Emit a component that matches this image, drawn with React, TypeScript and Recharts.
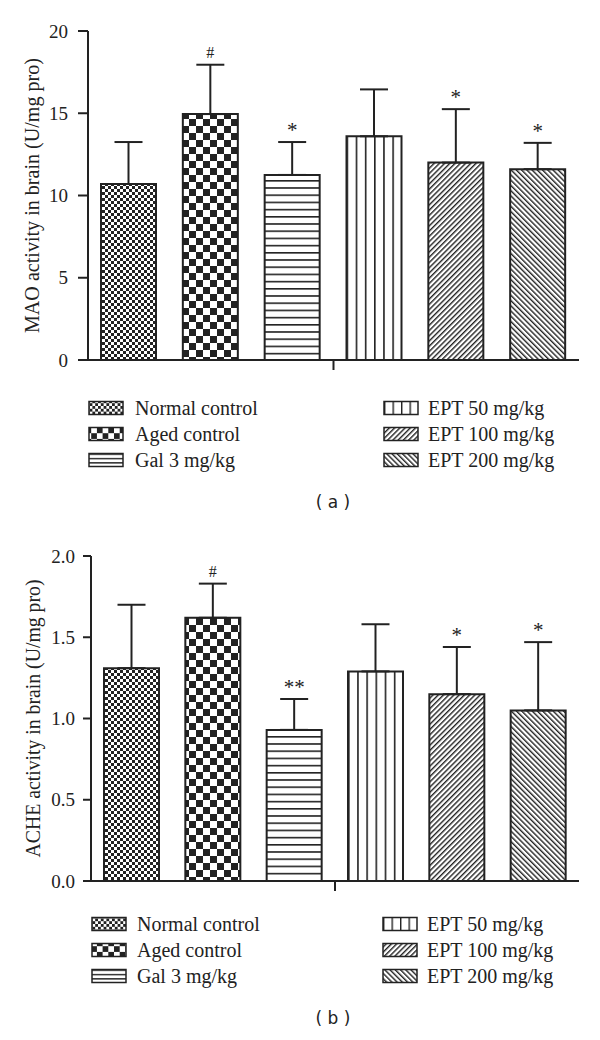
import React from 'react'
import { BarChart, Bar, XAxis, YAxis, ErrorBar, Cell, LabelList } from 'recharts'

const SERIF = '"Liberation Serif", "Times New Roman", serif'
const INK = '#222'

const groups = ['Normal control', 'Aged control', 'Gal 3 mg/kg', 'EPT 50 mg/kg', 'EPT 100 mg/kg', 'EPT 200 mg/kg']

// (a) MAO
const maoMean = [10.7, 14.95, 11.25, 13.6, 12.0, 11.6]
const maoSd = [2.55, 3.0, 2.0, 2.85, 3.25, 1.6]
const maoMarks = ['', '#', '*', '', '*', '*']
const maoTicks = [0, 5, 10, 15, 20]

// (b) ACHE
const acheMean = [1.31, 1.62, 0.93, 1.29, 1.15, 1.05]
const acheSd = [0.39, 0.21, 0.19, 0.29, 0.29, 0.42]
const acheMarks = ['', '#', '**', '', '*', '*']
const acheTicks = [0, 0.5, 1.0, 1.5, 2.0]

function Patterns() {
  const diag = (id: string, angle: number) => (
    <pattern id={id} width={3.7} height={10} patternUnits="userSpaceOnUse" patternTransform={`rotate(${angle})`}>
      <rect width={3.7} height={10} fill="#fff" />
      <rect width={1.4} height={10} fill={INK} />
    </pattern>
  )
  const check = (id: string, s: number) => (
    <pattern id={id} width={s * 2} height={s * 2} patternUnits="userSpaceOnUse">
      <rect width={s * 2} height={s * 2} fill="#fff" />
      <rect width={s} height={s} fill={INK} />
      <rect x={s} y={s} width={s} height={s} fill={INK} />
    </pattern>
  )
  return (
    <svg width={0} height={0} style={{ position: 'absolute' }}>
      <defs>
        {check('bar-0', 3)}
        {check('bar-1', 7)}
        <pattern id="bar-2" width={10} height={7.2} patternUnits="userSpaceOnUse">
          <rect width={10} height={7.2} fill="#fff" />
          <rect width={10} height={1.6} fill={INK} />
        </pattern>
        <pattern id="bar-3" width={1 / 6} height={1} patternUnits="objectBoundingBox">
          <rect width={1000} height={1000} fill="#fff" />
          <rect width={1.6} height={1000} fill={INK} />
        </pattern>
        {diag('bar-4', 45)}
        {diag('bar-5', -45)}
        {check('leg-0', 2.8)}
        {check('leg-1', 5.7)}
        <pattern id="leg-2" width={1} height={1 / 3} patternUnits="objectBoundingBox">
          <rect width={1000} height={1000} fill="#fff" />
          <rect width={1000} height={1.4} fill={INK} />
        </pattern>
        <pattern id="leg-3" width={1 / 4} height={1} patternUnits="objectBoundingBox">
          <rect width={1000} height={1000} fill="#fff" />
          <rect width={1.4} height={1000} fill={INK} />
        </pattern>
        {diag('leg-4', 45)}
        {diag('leg-5', -45)}
      </defs>
    </svg>
  )
}

const BoundaryTick = (p: any) => {
  const mid = Math.floor(groups.length / 2) - 1
  const idx = p.index ?? p.payload?.index
  if (idx !== mid) return <g />
  const x = p.payload.coordinate + (p.payload.offset ?? 0)
  return <line x1={x} x2={x} y1={p.y} y2={p.y + 10} stroke={INK} strokeWidth={2} />
}

type PanelProps = {
  means: number[]
  sds: number[]
  marks: string[]
  ticks: number[]
  digits: number
  yLabel: string
  labelLen: number
  top: number
  height: number
  plotTop: number
  left: number
  tickLen: number
  tickGap: number
  labelX: number
}

function Panel(p: PanelProps) {
  const rows = groups.map((name, i) => ({ name, idx: i, value: p.means[i], err: [0, p.sds[i]] }))
  const yMax = p.ticks[p.ticks.length - 1]

  const renderMark = (lp: any) => {
    const vb = lp.viewBox ?? lp
    const row = rows[lp.value]
    if (!row || !p.marks[row.idx]) return null
    const h = Math.abs(vb.height)
    const top = Math.min(vb.y, vb.y + vb.height)
    const yErr = top - (h * row.err[1]) / row.value
    const mark = p.marks[row.idx]
    return (
      <text
        x={vb.x + vb.width / 2}
        y={yErr - 12}
        textAnchor="middle"
        dominantBaseline="central"
        fontFamily={SERIF}
        fontSize={mark === '#' ? 16 : 21}
        fill={INK}
      >
        {mark}
      </text>
    )
  }

  const renderYLabel = (lp: any) => {
    const vb = lp.viewBox
    const cy = vb.y + vb.height / 2
    return (
      <text
        x={p.labelX}
        y={cy}
        transform={`rotate(-90 ${p.labelX} ${cy})`}
        textAnchor="middle"
        dominantBaseline="central"
        textLength={p.labelLen}
        lengthAdjust="spacingAndGlyphs"
        fontFamily={SERIF}
        fontSize={20}
        fill={INK}
      >
        {p.yLabel}
      </text>
    )
  }

  return (
    <div style={{ position: 'absolute', left: 0, top: p.top }}>
      <BarChart
        width={600}
        height={p.height}
        data={rows}
        margin={{ top: p.plotTop, right: 21, bottom: 10, left: p.left }}
      >
        <XAxis
          dataKey="name"
          height={10}
          interval={0}
          axisLine={{ stroke: INK, strokeWidth: 2 }}
          tickLine={false}
          tickSize={0}
          tickMargin={0}
          tick={BoundaryTick}
        />
        <YAxis
          width={60}
          domain={[0, yMax]}
          ticks={p.ticks}
          interval={0}
          tickFormatter={(v: number) => v.toFixed(p.digits)}
          axisLine={{ stroke: INK, strokeWidth: 2 }}
          tickLine={{ stroke: INK, strokeWidth: 2 }}
          tickSize={p.tickLen}
          tickMargin={p.tickGap}
          tick={{ fill: INK, fontSize: 19, fontFamily: SERIF }}
          label={{ content: renderYLabel }}
        />
        <Bar dataKey="value" barSize={55} stroke={INK} strokeWidth={2} isAnimationActive={false}>
          {rows.map((r) => (
            <Cell key={r.name} fill={`url(#bar-${r.idx})`} />
          ))}
          <ErrorBar dataKey="err" width={14} stroke={INK} strokeWidth={2} direction="y" isAnimationActive={false} />
          <LabelList dataKey="idx" content={renderMark} />
        </Bar>
      </BarChart>
    </div>
  )
}

type LegendProps = {
  rowY: number[]
  swatchX: [number, number]
  textX: [number, number]
  caption: string
  captionY: number
}

function GroupLegend({ rowY, swatchX, textX, caption, captionY }: LegendProps) {
  return (
    <g>
      {groups.map((g, i) => {
        const col = i < 3 ? 0 : 1
        const cy = rowY[i % 3]
        return (
          <g key={g}>
            <rect x={swatchX[col]} y={cy - 6.5} width={34} height={13} fill={`url(#leg-${i})`} stroke={INK} strokeWidth={1.5} />
            <text x={textX[col]} y={cy} dominantBaseline="central" fontFamily={SERIF} fontSize={20} fill={INK}>
              {g}
            </text>
          </g>
        )
      })}
      <text x={333} y={captionY} textAnchor="middle" dominantBaseline="central" fontFamily='"DejaVu Sans", sans-serif' fontSize={17} fill={INK}>
        {caption}
      </text>
    </g>
  )
}

export default function App() {
  return (
    <div style={{ position: 'absolute', left: 0, top: 0, width: 600, height: 1040, background: '#fff' }}>
      <Patterns />
      <svg width={600} height={1040} style={{ position: 'absolute', left: 0, top: 0 }}>
        <GroupLegend rowY={[408, 434, 460]} swatchX={[89, 384]} textX={[135, 428]} caption="( a )" captionY={502} />
        <GroupLegend rowY={[924, 950, 976]} swatchX={[92, 383]} textX={[137, 427]} caption="( b )" captionY={1018} />
      </svg>
      <Panel
        means={maoMean}
        sds={maoSd}
        marks={maoMarks}
        ticks={maoTicks}
        digits={0}
        yLabel="MAO activity in brain (U/mg pro)"
        labelLen={275}
        top={0}
        height={380}
        plotTop={31}
        left={28}
        tickLen={10}
        tickGap={10}
        labelX={32}
      />
      <Panel
        means={acheMean}
        sds={acheSd}
        marks={acheMarks}
        ticks={acheTicks}
        digits={1}
        yLabel="ACHE activity in brain (U/mg pro)"
        labelLen={278}
        top={520}
        height={381}
        plotTop={36}
        left={31}
        tickLen={8}
        tickGap={8}
        labelX={33}
      />
    </div>
  )
}
